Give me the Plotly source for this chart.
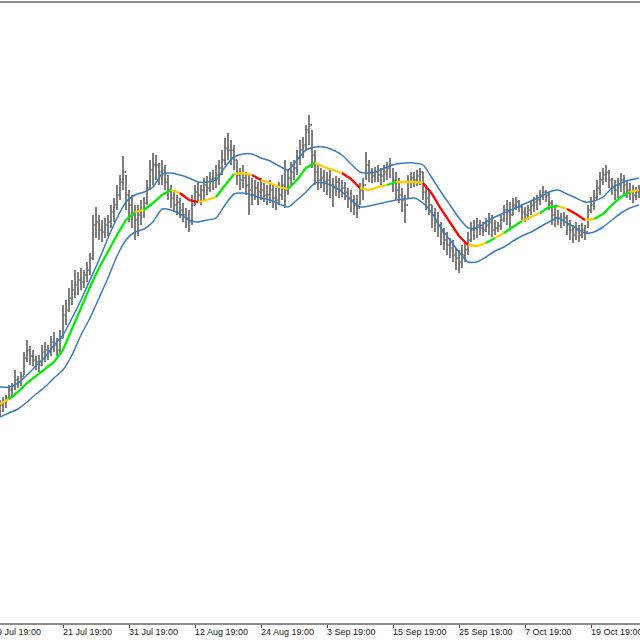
import plotly.graph_objects as go

# ---- data -------------------------------------------------------------
tick_dates = ["9 Jul 19:00", "21 Jul 19:00", "31 Jul 19:00", "12 Aug 19:00",
              "24 Aug 19:00", "3 Sep 19:00", "15 Sep 19:00", "25 Sep 19:00",
              "7 Oct 19:00", "19 Oct 19:00"]
tick_bars = [-1, 21, 43, 65, 87, 109, 131, 153, 175, 197]

bar_high = [
    1223, 1226, 1228, 1238, 1240, 1253, 1247, 1251, 1271, 1283,
    1277, 1273, 1267, 1268, 1278, 1281, 1278, 1287, 1291, 1285,
    1293, 1318, 1323, 1335, 1343, 1353, 1351, 1355, 1353, 1361,
    1370, 1408, 1416, 1408, 1403, 1405, 1408, 1418, 1425, 1438,
    1448, 1467, 1448, 1433, 1428, 1418, 1418, 1423, 1426, 1443,
    1463, 1470, 1468, 1460, 1463, 1458, 1448, 1438, 1431, 1428,
    1425, 1420, 1415, 1413, 1428, 1438, 1441, 1438, 1445, 1447,
    1451, 1453, 1458, 1463, 1473, 1485, 1490, 1483, 1478, 1463,
    1455, 1458, 1451, 1448, 1445, 1443, 1441, 1445, 1440, 1438,
    1443, 1438, 1435, 1441, 1448, 1463, 1453, 1461, 1463, 1473,
    1483, 1486, 1498, 1508, 1493, 1473, 1458, 1455, 1453, 1451,
    1453, 1445, 1447, 1445, 1443, 1441, 1435, 1433, 1428, 1428,
    1440, 1445, 1471, 1463, 1455, 1456, 1458, 1455, 1458, 1461,
    1465, 1455, 1451, 1445, 1435, 1428, 1448, 1451, 1451, 1453,
    1455, 1451, 1438, 1433, 1418, 1415, 1411, 1401, 1395, 1391,
    1385, 1383, 1375, 1373, 1378, 1381, 1391, 1401, 1403, 1405,
    1403, 1401, 1405, 1410, 1408, 1403, 1401, 1408, 1418, 1423,
    1421, 1425, 1426, 1423, 1418, 1416, 1418, 1423, 1426, 1428,
    1433, 1437, 1433, 1431, 1423, 1418, 1413, 1410, 1411, 1408,
    1403, 1398, 1401, 1398, 1400, 1398, 1418, 1426, 1433, 1443,
    1451, 1455, 1458, 1453, 1445, 1443, 1445, 1450, 1448, 1443,
    1440, 1438, 1436, 1438,
]
bar_low = [
    1206, 1211, 1215, 1223, 1225, 1233, 1235, 1237, 1248, 1261,
    1258, 1257, 1253, 1251, 1257, 1261, 1263, 1267, 1271, 1267,
    1268, 1285, 1298, 1311, 1318, 1325, 1328, 1333, 1335, 1341,
    1348, 1363, 1385, 1383, 1381, 1385, 1387, 1395, 1401, 1413,
    1423, 1433, 1413, 1401, 1395, 1383, 1387, 1398, 1405, 1418,
    1433, 1438, 1443, 1438, 1438, 1433, 1423, 1415, 1411, 1408,
    1405, 1401, 1395, 1391, 1398, 1418, 1421, 1418, 1423, 1428,
    1431, 1433, 1435, 1438, 1448, 1458, 1463, 1458, 1453, 1438,
    1433, 1435, 1428, 1408, 1418, 1423, 1418, 1423, 1421, 1418,
    1420, 1415, 1413, 1418, 1423, 1415, 1428, 1438, 1443, 1448,
    1458, 1465, 1473, 1478, 1455, 1438, 1433, 1435, 1431, 1428,
    1425, 1416, 1427, 1425, 1426, 1423, 1415, 1411, 1408, 1405,
    1418, 1423, 1443, 1441, 1440, 1441, 1441, 1438, 1441, 1443,
    1445, 1431, 1423, 1420, 1411, 1400, 1425, 1435, 1436, 1437,
    1438, 1423, 1413, 1408, 1395, 1391, 1386, 1378, 1373, 1368,
    1365, 1361, 1353, 1350, 1355, 1361, 1368, 1381, 1383, 1385,
    1388, 1387, 1391, 1388, 1386, 1388, 1391, 1393, 1401, 1398,
    1393, 1408, 1413, 1411, 1403, 1401, 1403, 1408, 1411, 1413,
    1418, 1423, 1421, 1413, 1398, 1396, 1398, 1395, 1397, 1388,
    1383, 1380, 1383, 1381, 1385, 1383, 1395, 1410, 1413, 1423,
    1428, 1438, 1441, 1435, 1428, 1423, 1425, 1431, 1428, 1425,
    1423, 1420, 1423, 1425,
]
bar_close = [
    1218, 1221, 1225, 1233, 1237, 1243, 1241, 1247, 1265, 1273,
    1267, 1263, 1261, 1258, 1271, 1273, 1271, 1281, 1278, 1273,
    1285, 1308, 1313, 1325, 1333, 1338, 1343, 1341, 1348, 1353,
    1365, 1398, 1401, 1393, 1391, 1398, 1401, 1411, 1418, 1428,
    1441, 1451, 1428, 1418, 1408, 1403, 1408, 1413, 1420, 1435,
    1453, 1458, 1458, 1451, 1453, 1441, 1433, 1425, 1418, 1421,
    1413, 1408, 1405, 1401, 1418, 1431, 1428, 1433, 1438, 1435,
    1443, 1445, 1448, 1455, 1463, 1475, 1473, 1473, 1463, 1448,
    1443, 1445, 1438, 1433, 1428, 1435, 1431, 1433, 1428, 1428,
    1433, 1425, 1423, 1428, 1438, 1433, 1445, 1451, 1455, 1465,
    1473, 1478, 1493, 1498, 1468, 1451, 1443, 1445, 1441, 1443,
    1438, 1435, 1441, 1433, 1435, 1431, 1425, 1423, 1418, 1415,
    1433, 1438, 1458, 1451, 1447, 1451, 1448, 1447, 1451, 1455,
    1458, 1443, 1433, 1428, 1423, 1418, 1441, 1445, 1443, 1447,
    1451, 1431, 1425, 1418, 1408, 1401, 1398, 1391, 1383, 1378,
    1375, 1368, 1365, 1361, 1368, 1373, 1383, 1393, 1395, 1398,
    1395, 1393, 1398, 1401, 1393, 1395, 1397, 1403, 1413, 1411,
    1408, 1418, 1421, 1416, 1411, 1408, 1413, 1418, 1421, 1423,
    1428, 1431, 1428, 1420, 1408, 1405, 1405, 1403, 1405, 1398,
    1393, 1388, 1393, 1388, 1393, 1391, 1413, 1418, 1425, 1435,
    1443, 1448, 1451, 1443, 1435, 1433, 1438, 1443, 1438, 1433,
    1431, 1428, 1431, 1433,
]

# indicator sampled every 3rd bar
ma_step = 3
ma_mid = [
    1219, 1224, 1231, 1240, 1247, 1254, 1261, 1273, 1294, 1315,
    1336, 1355, 1372, 1388, 1403, 1411, 1413, 1420, 1428, 1433,
    1430, 1423, 1421, 1423, 1426, 1438, 1449, 1450, 1448, 1443,
    1440, 1436, 1434, 1443, 1455, 1460, 1456, 1453, 1450, 1444,
    1435, 1433, 1436, 1438, 1441, 1441, 1441, 1440, 1429, 1414,
    1400, 1387, 1378, 1377, 1380, 1385, 1390, 1396, 1402, 1406,
    1410, 1416, 1417, 1414, 1409, 1403, 1404, 1409, 1418, 1426,
    1431, 1433,
]
ma_upper = [
    1236, 1236, 1240, 1248, 1257, 1266, 1278, 1288, 1305, 1323,
    1343, 1363, 1385, 1405, 1421, 1428, 1431, 1436, 1449, 1450,
    1448, 1445, 1441, 1441, 1443, 1456, 1466, 1469, 1469, 1465,
    1462, 1457, 1453, 1463, 1473, 1476, 1476, 1473, 1468, 1459,
    1451, 1450, 1452, 1456, 1459, 1460, 1460, 1458, 1445, 1431,
    1418, 1405, 1395, 1395, 1401, 1406, 1410, 1414, 1418, 1422,
    1426, 1431, 1433, 1429, 1425, 1421, 1422, 1426, 1435, 1440,
    1443, 1445,
]
ma_lower = [
    1206, 1210, 1214, 1221, 1229, 1236, 1245, 1253, 1268, 1288,
    1305, 1325, 1345, 1367, 1383, 1391, 1394, 1401, 1414, 1413,
    1409, 1403, 1401, 1403, 1405, 1418, 1429, 1430, 1428, 1425,
    1423, 1419, 1416, 1423, 1431, 1440, 1440, 1437, 1431, 1423,
    1416, 1417, 1419, 1421, 1423, 1424, 1425, 1420, 1410, 1395,
    1383, 1371, 1361, 1361, 1366, 1372, 1376, 1382, 1387, 1391,
    1396, 1401, 1405, 1400, 1395, 1390, 1391, 1396, 1403, 1410,
    1415, 1418,
]
# trend state of each mid-line segment: U = up, F = flat, D = down
ma_trend = ("F" + "U" * 14 + "F" + "UUU" + "F" + "DD" + "FF" + "UU" + "FF" + "D"
            + "FFF" + "UUU" + "FFF" + "DD" + "FFF" + "U" + "FFF" + "DDDDD" + "FF"
            + "U" + "F" + "UU" + "FF" + "UU" + "F" + "DD" + "F" + "UUUU" + "F")

# ---- styling ----------------------------------------------------------
BAR_COLOR = "#707070"
BAND_COLOR = "#3a7cbf"
TREND_COLORS = {"U": "#00ee00", "F": "#ffcc00", "D": "#ff0000"}

n_bars = len(bar_close)
bar_x = list(range(n_bars))
bar_open = [bar_close[0]] + bar_close[:-1]

fig = go.Figure()
fig.add_trace(go.Ohlc(
    x=bar_x, open=bar_open, high=bar_high, low=bar_low, close=bar_close,
    increasing=dict(line=dict(color=BAR_COLOR, width=1.8)),
    decreasing=dict(line=dict(color=BAR_COLOR, width=1.8)),
    tickwidth=0.45, showlegend=False, hoverinfo="skip",
))

ma_x = [k * ma_step for k in range(len(ma_mid))]
for band in (ma_upper, ma_lower):
    fig.add_trace(go.Scatter(x=ma_x, y=band, mode="lines",
                             line=dict(color=BAND_COLOR, width=1.5, shape="spline", smoothing=0.6),
                             showlegend=False, hoverinfo="skip"))

# group consecutive segments with the same trend state
nseg = min(len(ma_trend), len(ma_mid) - 1)
start = 0
while start < nseg:
    end = start
    while end + 1 < nseg and ma_trend[end + 1] == ma_trend[start]:
        end += 1
    fig.add_trace(go.Scatter(
        x=ma_x[start:end + 2], y=ma_mid[start:end + 2], mode="lines",
        line=dict(color=TREND_COLORS[ma_trend[start]], width=2.3),
        showlegend=False, hoverinfo="skip"))
    start = end + 1

x_range = [0, 640 / 3]
y_range = [1000, 1620]

annotations = []
for b, lbl in zip(tick_bars, tick_dates):
    annotations.append(dict(
        text=lbl, xref="paper", yref="paper",
        x=(b - x_range[0]) / (x_range[1] - x_range[0]), y=0,
        xanchor="left", yanchor="top", xshift=-2, yshift=-2,
        showarrow=False,
        font=dict(family="Liberation Sans, Arial, sans-serif", size=9, color="#222222"),
    ))

fig.update_layout(
    width=640, height=640,
    margin=dict(l=0, r=0, t=3, b=17),
    paper_bgcolor="white", plot_bgcolor="white",
    annotations=annotations,
    xaxis=dict(
        range=x_range, rangeslider=dict(visible=False),
        showgrid=False, zeroline=False,
        showline=True, mirror=True, linecolor="#8c8c8c", linewidth=2,
        tickmode="array", tickvals=tick_bars, ticktext=[""] * len(tick_bars),
        ticks="outside", ticklen=3, tickcolor="#444444", tickwidth=1,
    ),
    yaxis=dict(range=y_range, showgrid=False, zeroline=False,
               showline=False, showticklabels=False, ticks=""),
)

fig.write_html(
    "out.html",
    config={"displayModeBar": False, "staticPlot": True},
    post_script="document.body.style.margin='0';document.body.style.overflow='hidden';",
)
